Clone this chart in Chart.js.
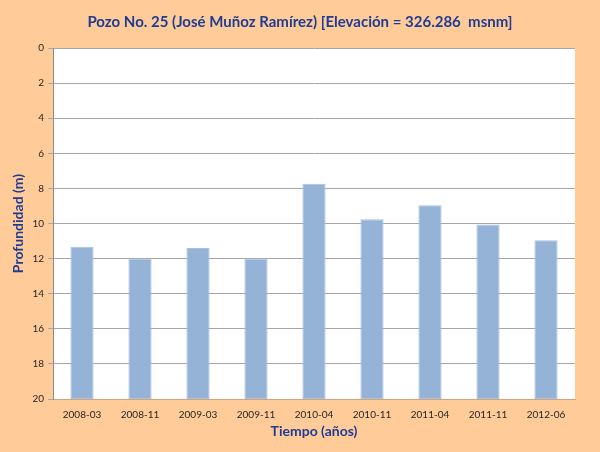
<!DOCTYPE html>
<html>
<head>
<meta charset="utf-8">
<script src="https://cdn.jsdelivr.net/npm/chart.js@4/dist/chart.umd.min.js"></script>
<style>
  html, body { margin: 0; padding: 0; background: #FFCC99; }
  #wrap { width: 600px; height: 452px; }
</style>
</head>
<body>
<div id="wrap"><canvas id="pozo-chart"></canvas></div>
<script>
const fechas = ['2008-03', '2008-11', '2009-03', '2009-11', '2010-04', '2010-11', '2011-04', '2011-11', '2012-06']
const profundidad = [11.33, 12.0, 11.4, 12.0, 7.74, 9.76, 8.96, 10.05, 10.96]
const fondo = 20

const azul = '#1F3C93'

// fondo blanco del area de trazado
const plotBg = {
    id: 'plotBg',
    beforeDraw(chart) {
        const { ctx, chartArea: a } = chart
        ctx.save()
        ctx.fillStyle = '#FFFFFF'
        ctx.fillRect(a.left, a.top, a.right - a.left, a.bottom - a.top)
        ctx.restore()
    }
}

const data = {
    labels: fechas,
    datasets: [{
        data: profundidad.map(v => [v, fondo]),
        backgroundColor: '#95B3D7',
        borderColor: '#A9C1DE',
        borderWidth: 1,
        borderSkipped: false,
        barPercentage: 0.4,
        categoryPercentage: 1.0
    }]
}

const config = {
    type: 'bar',
    data,
    plugins: [plotBg],
    options: {
        responsive: true,
        maintainAspectRatio: false,
        animation: false,
        layout: {
            padding: 0
        },
        plugins: {
            legend: { display: false },
            tooltip: { enabled: false },
            title: {
                display: true,
                text: 'Pozo No. 25 (José Muñoz Ramírez) [Elevación = 326.286  msnm]',
                color: azul,
                font: { family: 'Lato', size: 15, weight: 'bold' },
                padding: { top: 13, bottom: 17 }
            }
        },
        scales: {
            x: {
                grid: { display: false },
                border: { display: true, color: '#D4A57A', width: 1 },
                ticks: {
                    color: '#262626',
                    font: { family: 'Lato', size: 10 },
                    maxRotation: 0,
                    padding: 2
                },
                title: {
                    display: true,
                    text: 'Tiempo (años)',
                    color: azul,
                    font: { family: 'Lato', size: 14, weight: 'bold' },
                    padding: { top: 2, bottom: 12 }
                },
                afterFit(scale) { scale.height = 53 }
            },
            y: {
                reverse: true,
                min: 0,
                max: 20,
                ticks: {
                    stepSize: 2,
                    color: '#262626',
                    font: { family: 'Lato', size: 10 },
                    padding: 4
                },
                grid: {
                    color: '#A6A6A6',
                    tickLength: 5
                },
                border: { display: true, color: '#8C8C8C' },
                title: {
                    display: true,
                    text: 'Profundidad (m)',
                    color: azul,
                    font: { family: 'Lato', size: 14, weight: 'bold' },
                    padding: { top: 10, bottom: 2 }
                },
                afterFit(scale) { scale.width = 53 }
            },
            // margen derecho, sin marcas
            margen: {
                position: 'right',
                min: 0,
                max: 20,
                ticks: { display: false },
                grid: { display: false },
                border: { display: false },
                afterFit(scale) { scale.width = 25 }
            }
        }
    }
}

new Chart(document.getElementById('pozo-chart'), config)
</script>
</body>
</html>
